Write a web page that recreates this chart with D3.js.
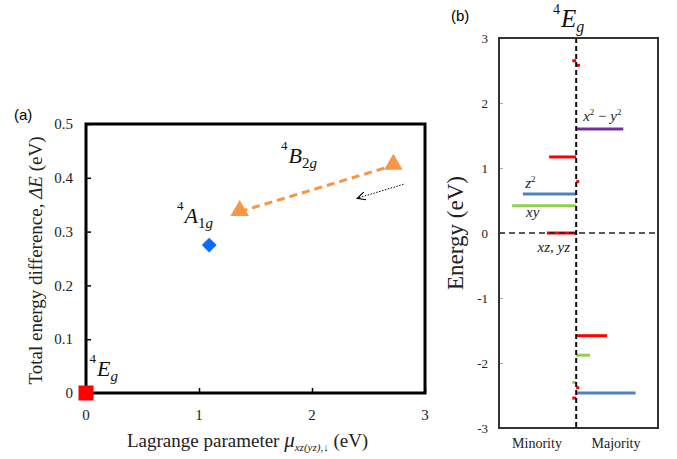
<!DOCTYPE html>
<html>
<head>
<meta charset="utf-8">
<script src="https://cdn.jsdelivr.net/npm/d3@7"></script>
<style>
  body { margin: 0; background: #fff; }
  svg { display: block; }
  .serif { font-family: "Liberation Serif", "DejaVu Serif", serif; }
  .sans { font-family: "Liberation Sans", Arial, sans-serif; }
</style>
</head>
<body>
<div id="chart"></div>
<script>
// ---- panel (a) data ----
const aXTicks = [0, 1, 2, 3];
const aYTicks = [0, 0.1, 0.2, 0.3, 0.4, 0.5];
const eg4 = { x: 0, y: 0 };
const a1g4 = { x: 1.09, y: 0.275 };
const b2g4 = [{ x: 1.36, y: 0.337 }, { x: 2.72, y: 0.423 }];
const arrowA = [{ x: 2.81, y: 0.388 }, { x: 2.40, y: 0.362 }];
// state labels: [main letter, subscript, x, y]
const stateLabels = [
  ['E', 'g', 0.11, 0.032],
  ['A', '1g', 0.885, 0.316],
  ['B', '2g', 1.805, 0.428]
];

// ---- panel (b) data ----
const bYTicks = [3, 2, 1, 0, -1, -2, -3];
// levels: energy (eV), signed length (minority < 0, majority > 0), colour
const levelE = [2.65, 2.58, 1.6, 1.17, 0.79, 0.6, 0.42, 0, -1.58, -1.88, -2.3, -2.38, -2.46, -2.54];
const levelW = [-0.05, 0.05, 0.61, -0.35, 0.04, -0.69, -0.83, -0.38, 0.40, 0.18, -0.05, 0.04, 0.77, -0.05];
const levelC = ['#ff0000', '#ff0000', '#7030a0', '#ff0000', '#ff0000', '#4f81bd', '#92d050', '#ff0000',
                '#ff0000', '#92d050', '#92d050', '#ff0000', '#4f81bd', '#ff0000'];
const orbitalLabels = [
  { x: 0.09, y: 1.73, base: 'x', sup: '2', tail: true },
  { x: -0.66, y: 0.70, base: 'z', sup: '2' },
  { x: -0.65, y: 0.24, base: 'xy' },
  { x: -0.5, y: -0.29, base: 'xz, yz' }
];

const svg = d3.select('#chart').append('svg')
  .attr('width', 677).attr('height', 459);

svg.append('defs').append('marker')
  .attr('id', 'open-arrow')
  .attr('viewBox', '0 0 10 10')
  .attr('refX', 9).attr('refY', 5)
  .attr('markerWidth', 10).attr('markerHeight', 10)
  .attr('markerUnits', 'userSpaceOnUse')
  .attr('orient', 'auto')
  .append('path')
  .attr('d', 'M1,1 L9,5 L1,9')
  .attr('fill', 'none').attr('stroke', '#000').attr('stroke-width', 1.2);

// ================= panel (a) =================
const ax = d3.scaleLinear().domain([0, 3]).range([86, 425]);
const ay = d3.scaleLinear().domain([0, 0.5]).range([393, 124]);
const ga = svg.append('g');

// inward ticks
ga.append('g')
  .attr('transform', `translate(${ax(0)},0)`)
  .call(d3.axisRight(ay).tickValues(aYTicks).tickSize(5).tickFormat(''))
  .call(g => g.select('.domain').remove())
  .call(g => g.selectAll('line').attr('stroke', '#000').attr('stroke-width', 1.5));
ga.append('g')
  .attr('transform', `translate(0,${ay(0)})`)
  .call(d3.axisTop(ax).tickValues(aXTicks).tickSize(5).tickFormat(''))
  .call(g => g.select('.domain').remove())
  .call(g => g.selectAll('line').attr('stroke', '#000').attr('stroke-width', 1.5));

ga.append('rect')
  .attr('x', ax(0)).attr('y', ay(0.5))
  .attr('width', ax(3) - ax(0)).attr('height', ay(0) - ay(0.5))
  .attr('fill', 'none').attr('stroke', '#000').attr('stroke-width', 3);

ga.selectAll('.ytl').data(aYTicks).join('text')
  .attr('class', 'serif')
  .attr('x', ax(0) - 13).attr('y', d => ay(d)).attr('dy', '0.35em')
  .attr('text-anchor', 'end').attr('font-size', 15).attr('fill', '#222')
  .text(d => d === 0 ? '0' : d3.format('.1f')(d));
ga.selectAll('.xtl').data(aXTicks).join('text')
  .attr('class', 'serif')
  .attr('x', d => ax(d)).attr('y', ay(0) + 27)
  .attr('text-anchor', 'middle').attr('font-size', 15).attr('fill', '#222')
  .text(d => d);

// axis titles
const yt = ga.append('text').attr('class', 'serif')
  .attr('transform', `translate(42,${(ay(0) + ay(0.5)) / 2 + 2}) rotate(-90)`)
  .attr('text-anchor', 'middle').attr('font-size', 19).attr('fill', '#222');
yt.append('tspan').text('Total energy difference, ');
yt.append('tspan').attr('font-style', 'italic').text('ΔE');
yt.append('tspan').text(' (eV)');

const xt = ga.append('text').attr('class', 'serif')
  .attr('x', 127).attr('y', 447).attr('font-size', 19).attr('fill', '#222');
xt.append('tspan').text('Lagrange parameter ');
xt.append('tspan').attr('font-style', 'italic').attr('font-size', 21).text('μ');
xt.append('tspan').attr('font-style', 'italic').attr('font-size', 11).attr('dy', 4).text('xz(yz),↓');
xt.append('tspan').attr('dy', -4).text(' (eV)');

ga.append('text').attr('class', 'sans')
  .attr('x', 14).attr('y', 120).attr('font-size', 15).text('(a)');

// dashed line between B2g points
ga.append('path')
  .datum(b2g4)
  .attr('d', d3.line().x(d => ax(d.x)).y(d => ay(d.y)))
  .attr('fill', 'none').attr('stroke', '#f79646')
  .attr('stroke-width', 3).attr('stroke-dasharray', '8,5');

// dotted arrow
ga.append('path')
  .datum(arrowA)
  .attr('d', d3.line().x(d => ax(d.x)).y(d => ay(d.y)))
  .attr('fill', 'none').attr('stroke', '#000')
  .attr('stroke-width', 1).attr('stroke-dasharray', '1.5,1.5')
  .attr('marker-end', 'url(#open-arrow)');

// markers
ga.append('path')
  .attr('transform', `translate(${ax(eg4.x)},${ay(eg4.y)})`)
  .attr('d', d3.symbol(d3.symbolSquare, 225)())
  .attr('fill', '#ff0000');
ga.append('path')
  .attr('transform', `translate(${ax(a1g4.x)},${ay(a1g4.y)}) rotate(45)`)
  .attr('d', d3.symbol(d3.symbolSquare, 110)())
  .attr('fill', '#0a6cff');
ga.selectAll('.tri').data(b2g4).join('path')
  .attr('transform', d => `translate(${ax(d.x)},${ay(d.y) - 1})`)
  .attr('d', d3.symbol(d3.symbolTriangle, 150)())
  .attr('fill', '#f79646');

// state labels
stateLabels.forEach(([main, sub, x, y]) => {
  const t = ga.append('text').attr('class', 'serif')
    .attr('x', ax(x) - 9).attr('y', ay(y)).attr('fill', '#111');
  t.append('tspan').attr('font-size', 13).attr('dy', -13).text('4');
  t.append('tspan').attr('font-size', 22).attr('font-style', 'italic').attr('dx', 1).attr('dy', 13).text(main);
  t.append('tspan').attr('font-size', 15).attr('font-style', sub === 'g' ? 'italic' : 'normal')
    .attr('dy', 5).text(sub === 'g' ? 'g' : sub[0]);
  if (sub.length > 1) t.append('tspan').attr('font-size', 15).attr('font-style', 'italic').text(sub.slice(1));
});

// ================= panel (b) =================
const bx = d3.scaleLinear().domain([-1, 1.06]).range([499, 658]);
const by = d3.scaleLinear().domain([-3, 3]).range([428, 38]);
const gb = svg.append('g');

gb.append('g')
  .attr('transform', `translate(${bx(-1)},0)`)
  .call(d3.axisRight(by).tickValues(bYTicks).tickSize(4).tickFormat(''))
  .call(g => g.select('.domain').remove())
  .call(g => g.selectAll('line').attr('stroke', '#aaa'));

gb.selectAll('.btl').data(bYTicks).join('text')
  .attr('class', 'serif')
  .attr('x', bx(-1) - 11).attr('y', d => by(d)).attr('dy', '0.35em')
  .attr('text-anchor', 'end').attr('font-size', 13).attr('fill', '#222')
  .text(d => d);

// levels
gb.selectAll('.lvl').data(levelE).join('line')
  .attr('x1', bx(0)).attr('x2', (d, i) => bx(levelW[i]))
  .attr('y1', d => by(d)).attr('y2', d => by(d))
  .attr('stroke', (d, i) => levelC[i]).attr('stroke-width', 3);

// dashed zero lines
gb.append('line')
  .attr('x1', bx(-1)).attr('x2', bx(1.06)).attr('y1', by(0)).attr('y2', by(0))
  .attr('stroke', '#222').attr('stroke-width', 1.5).attr('stroke-dasharray', '6,4');
gb.append('line')
  .attr('x1', bx(0)).attr('x2', bx(0)).attr('y1', by(3)).attr('y2', by(-3))
  .attr('stroke', '#111').attr('stroke-width', 2).attr('stroke-dasharray', '5,3');

gb.append('rect')
  .attr('x', bx(-1)).attr('y', by(3))
  .attr('width', bx(1.06) - bx(-1)).attr('height', by(-3) - by(3))
  .attr('fill', 'none').attr('stroke', '#333').attr('stroke-width', 2);

// orbital labels
orbitalLabels.forEach(l => {
  const t = gb.append('text').attr('class', 'serif')
    .attr('x', bx(l.x)).attr('y', by(l.y)).attr('font-size', 15)
    .attr('font-style', 'italic').attr('fill', '#222');
  t.append('tspan').text(l.base);
  if (l.sup) t.append('tspan').attr('font-size', 9).attr('font-style', 'normal').attr('dy', -6).text(l.sup);
  if (l.tail) {
    t.append('tspan').attr('font-style', 'normal').attr('dy', 6).text(' − ');
    t.append('tspan').text('y');
    t.append('tspan').attr('font-size', 9).attr('font-style', 'normal').attr('dy', -6).text('2');
  }
});

// title and labels
const tb = gb.append('text').attr('class', 'serif')
  .attr('x', 553).attr('y', 27).attr('fill', '#111');
tb.append('tspan').attr('font-size', 14).attr('dy', -13).text('4');
tb.append('tspan').attr('font-size', 25).attr('font-style', 'italic').attr('dx', 1).attr('dy', 13).text('E');
tb.append('tspan').attr('font-size', 16).attr('font-style', 'italic').attr('dy', 5).text('g');

gb.append('text').attr('class', 'sans')
  .attr('x', 451).attr('y', 21).attr('font-size', 15).text('(b)');

gb.append('text').attr('class', 'serif')
  .attr('transform', `translate(463,${by(0)}) rotate(-90)`)
  .attr('text-anchor', 'middle').attr('font-size', 23).attr('fill', '#222')
  .text('Energy (eV)');

gb.append('text').attr('class', 'serif')
  .attr('x', 537).attr('y', 448).attr('text-anchor', 'middle')
  .attr('font-size', 14).attr('fill', '#222').text('Minority');
gb.append('text').attr('class', 'serif')
  .attr('x', 616).attr('y', 448).attr('text-anchor', 'middle')
  .attr('font-size', 14).attr('fill', '#222').text('Majority');
</script>
</body>
</html>
